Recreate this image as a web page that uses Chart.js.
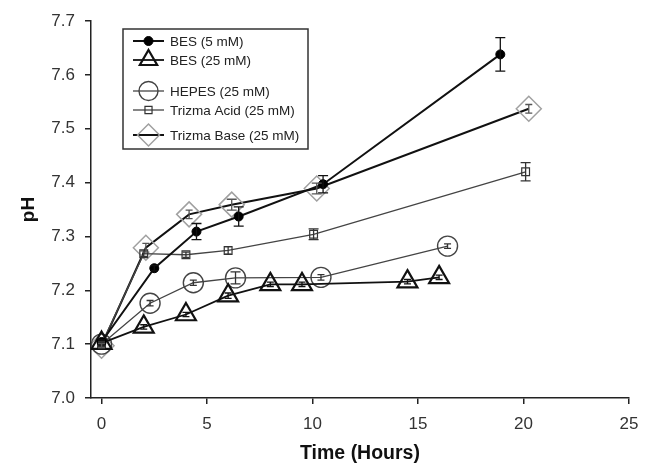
<!DOCTYPE html>
<html>
<head>
<meta charset="utf-8">
<script src="https://cdn.jsdelivr.net/npm/chart.js@4.4.1/dist/chart.umd.min.js"></script>
<style>
  html, body { margin: 0; padding: 0; background: #fff; }
  #wrap { width: 650px; height: 465px; }
</style>
</head>
<body>
<div id="wrap"><canvas id="myChart" width="650" height="465"></canvas></div>
<script>
// values (time in hours, pH, +/- error)
const bes5Hours = [0, 2.5, 4.5, 6.5, 10.5, 18.9];
const bes5Ph = [7.104, 7.241, 7.309, 7.337, 7.397, 7.638];
const bes5Err = [0.004, 0.005, 0.015, 0.018, 0.016, 0.031];

const bes25Hours = [0, 2.0, 4.0, 6.0, 8.0, 9.5, 14.5, 16.0];
const bes25Ph = [7.102, 7.132, 7.155, 7.190, 7.211, 7.211, 7.216, 7.224];
const bes25Err = [0.004, 0.004, 0.004, 0.005, 0.004, 0.004, 0.004, 0.004];

const hepesHours = [0, 2.3, 4.35, 6.35, 10.4, 16.4];
const hepesPh = [7.1, 7.176, 7.214, 7.223, 7.224, 7.282];
const hepesErr = [0.004, 0.005, 0.005, 0.011, 0.005, 0.004];

const acidHours = [0, 2.0, 4.0, 6.0, 10.05, 20.1];
const acidPh = [7.1, 7.268, 7.266, 7.274, 7.304, 7.42];
const acidErr = [0.004, 0.005, 0.005, 0.007, 0.01, 0.017];

const baseHours = [0, 2.1, 4.15, 6.17, 10.2, 20.25];
const basePh = [7.097, 7.279, 7.341, 7.359, 7.389, 7.537];
const baseErr = [0.004, 0.008, 0.008, 0.01, 0.01, 0.008];

const seriesLabels = ['BES (5 mM)', 'BES (25 mM)', 'HEPES (25 mM)', 'Trizma Acid (25 mM)', 'Trizma Base (25 mM)'];
const xTicks = [0, 5, 10, 15, 20, 25];
const yTicks = [7.0, 7.1, 7.2, 7.3, 7.4, 7.5, 7.6, 7.7];

const FONT = "'Liberation Sans', Arial, sans-serif";

function pts(xs, ys) {
  return xs.map((x, i) => ({ x: x, y: ys[i] }));
}

// legend y position for each entry and marker size in the legend
const legendRows = [41, 60, 91, 110, 135];
const legendRadius = [4.5, 10, 9.5, 5, 11];

const legendBox = {
  id: 'legendBox',
  afterDraw(chart) {
    const ctx = chart.ctx;
    ctx.save();
    ctx.fillStyle = '#fff';
    ctx.fillRect(123, 29, 185, 120);
    ctx.strokeStyle = '#333';
    ctx.lineWidth = 1.5;
    ctx.strokeRect(123, 29, 185, 120);
    chart.data.datasets.forEach((ds, i) => {
      const y = legendRows[i];
      ctx.strokeStyle = ds.borderColor;
      ctx.lineWidth = ds.borderWidth;
      ctx.beginPath();
      ctx.moveTo(133, y);
      ctx.lineTo(164, y);
      ctx.stroke();
      ctx.strokeStyle = ds.pointBorderColor;
      ctx.fillStyle = ds.pointBackgroundColor;
      ctx.lineWidth = ds.pointBorderWidth;
      Chart.helpers.drawPoint(ctx, {
        pointStyle: ds.pointStyle,
        radius: legendRadius[i],
        rotation: 0,
        borderWidth: ds.pointBorderWidth
      }, 148.5, y);
      ctx.fillStyle = '#222';
      ctx.font = '13.5px ' + FONT;
      ctx.textBaseline = 'middle';
      ctx.textAlign = 'left';
      ctx.fillText(ds.label, 170, y + 1);
    });
    ctx.restore();
  }
};

const errorBars = {
  id: 'errorBars',
  afterDatasetsDraw(chart) {
    const ctx = chart.ctx;
    const xs = chart.scales.x, ys = chart.scales.y;
    ctx.save();
    chart.data.datasets.forEach((ds) => {
      ctx.strokeStyle = ds.errColor;
      ctx.lineWidth = 1.3;
      ds.data.forEach((p, j) => {
        const e = ds.errors[j];
        const px = xs.getPixelForValue(p.x);
        const top = ys.getPixelForValue(p.y + e);
        const bot = ys.getPixelForValue(p.y - e);
        const cap = e > 0.009 ? 5 : 3.5;
        ctx.beginPath();
        ctx.moveTo(px, top); ctx.lineTo(px, bot);
        ctx.moveTo(px - cap, top); ctx.lineTo(px + cap, top);
        ctx.moveTo(px - cap, bot); ctx.lineTo(px + cap, bot);
        ctx.stroke();
      });
    });
    ctx.restore();
  }
};

const ctx = document.getElementById('myChart');
new Chart(ctx, {
  type: 'scatter',
  data: {
    datasets: [
      {
        label: seriesLabels[0], data: pts(bes5Hours, bes5Ph), errors: bes5Err, errColor: '#111',
        showLine: true, borderColor: '#111', borderWidth: 2,
        pointStyle: 'circle', pointRadius: 4.5, pointHoverRadius: 4.5,
        pointBackgroundColor: '#000', pointBorderColor: '#000', pointBorderWidth: 1
      },
      {
        label: seriesLabels[1], data: pts(bes25Hours, bes25Ph), errors: bes25Err, errColor: '#111',
        showLine: true, borderColor: '#111', borderWidth: 1.8,
        pointStyle: 'triangle', pointRadius: 11.5, pointHoverRadius: 11.5,
        pointBackgroundColor: 'rgba(0,0,0,0)', pointBorderColor: '#111', pointBorderWidth: 2.2
      },
      {
        label: seriesLabels[2], data: pts(hepesHours, hepesPh), errors: hepesErr, errColor: '#333',
        showLine: true, borderColor: '#444', borderWidth: 1.3,
        pointStyle: 'circle', pointRadius: 10, pointHoverRadius: 10,
        pointBackgroundColor: 'rgba(0,0,0,0)', pointBorderColor: '#444', pointBorderWidth: 1.4
      },
      {
        label: seriesLabels[3], data: pts(acidHours, acidPh), errors: acidErr, errColor: '#333',
        showLine: true, borderColor: '#444', borderWidth: 1.3,
        pointStyle: 'rect', pointRadius: 5.5, pointHoverRadius: 5.5,
        pointBackgroundColor: 'rgba(0,0,0,0)', pointBorderColor: '#333', pointBorderWidth: 1.2
      },
      {
        label: seriesLabels[4], data: pts(baseHours, basePh), errors: baseErr, errColor: '#555',
        showLine: true, borderColor: '#111', borderWidth: 2,
        pointStyle: 'rectRot', pointRadius: 12.5, pointHoverRadius: 12.5,
        pointBackgroundColor: 'rgba(0,0,0,0)', pointBorderColor: '#a0a0a0', pointBorderWidth: 1.5
      }
    ]
  },
  options: {
    responsive: false,
    animation: false,
    layout: { padding: { top: 21, right: 21, left: 0, bottom: 0 } },
    plugins: { legend: { display: false }, tooltip: { enabled: false } },
    scales: {
      x: {
        type: 'linear', min: -0.5, max: 25,
        afterBuildTicks: (scale) => { scale.ticks = xTicks.map(v => ({ value: v })); },
        afterFit: (scale) => { scale.height = 67; },
        border: { display: true, color: '#222', width: 1.5 },
        grid: { drawOnChartArea: false, drawTicks: true, tickLength: 6, color: '#222', lineWidth: 1.5 },
        ticks: { color: '#333', padding: 10, font: { family: FONT, size: 17 } },
        title: { display: true, text: 'Time (Hours)', color: '#111',
                 font: { family: FONT, size: 19.5, weight: 'bold' }, padding: { top: 0, bottom: 0 } }
      },
      y: {
        type: 'linear', min: 7.0, max: 7.7,
        afterBuildTicks: (scale) => { scale.ticks = yTicks.map(v => ({ value: v })); },
        afterFit: (scale) => { scale.width = 91; },
        border: { display: true, color: '#222', width: 1.5 },
        grid: { drawOnChartArea: false, drawTicks: true, tickLength: 6, color: '#222', lineWidth: 1.5 },
        ticks: { color: '#333', padding: 10, font: { family: FONT, size: 17 },
                 callback: (v) => Number(v).toFixed(1) },
        title: { display: true, text: 'pH', color: '#111',
                 font: { family: FONT, size: 19, weight: 'bold' }, padding: { top: 17, bottom: 0 } }
      }
    }
  },
  plugins: [errorBars, legendBox]
});
</script>
</body>
</html>
